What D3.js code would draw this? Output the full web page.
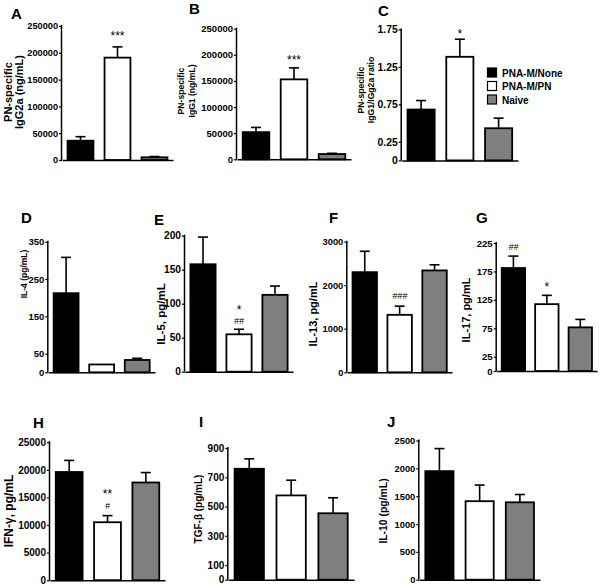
<!DOCTYPE html>
<html><head><meta charset="utf-8">
<script src="https://cdn.jsdelivr.net/npm/d3@7/dist/d3.min.js"></script>
<style>body{margin:0;background:#fff}svg{display:block}</style>
</head><body>
<svg id="c" width="600" height="585"></svg>
<script>
// ---------- DATA ----------
const groups = ["PNA-M/None", "PNA-M/PN", "Naive"];
const panelIds = ["A","B","C","D","E","F","G","H","I","J"];

const meanA = [36000, 191000, 5000];   const semA = [7500, 20000, 1500];
const meanB = [52000, 153000, 10000];  const semB = [9000, 22000, 1500];
const meanC = [0.68, 1.385, 0.43];     const semC = [0.12, 0.235, 0.135];
const meanD = [212, 21, 33];           const semD = [96, 0, 4.5];
const meanE = [158, 55, 113];          const semE = [40, 7.4, 13];
const meanF = [2300, 1320, 2340];      const semF = [480, 200, 130];
const meanG = [181, 117.5, 76.7];      const semG = [21, 15.5, 14];
const meanH = [19600, 10500, 17700];   const semH = [2100, 1200, 1800];
const meanI = [758, 576, 454];         const semI = [68, 104, 106];
const meanJ = [1950, 1410, 1390];      const semJ = [405, 290, 140];

const ticksA = [0, 50000, 100000, 150000, 200000, 250000];
const ticksB = [0, 50000, 100000, 150000, 200000, 250000];
const ticksC = [0, 0.25, 0.75, 1.25, 1.75];
const ticksD = [0, 50, 150, 250, 350];
const ticksE = [0, 50, 100, 150, 200];
const ticksF = [0, 1000, 2000, 3000];
const ticksG = [0, 25, 75, 125, 175, 225];
const ticksH = [0, 5000, 10000, 15000, 20000, 25000];
const ticksI = [0, 100, 300, 500, 700, 900];
const ticksJ = [0, 500, 1000, 1500, 2000, 2500];

const titlesA = ["PN-specific", "IgG2a (ng/mL)"];
const titlesB = ["PN-specific", "IgG1 (ng/mL)"];
const titlesC = ["PN-specific", "IgG1/IGg2a ratio"];
const titlesD = ["IL-4 (pg/mL)"];
const titlesE = ["IL-5, pg/mL"];
const titlesF = ["IL-13, pg/mL"];
const titlesG = ["IL-17, pg/mL"];
const titlesH = ["IFN-\u03b3, pg/mL"];
const titlesI = ["TGF-\u03b2 (pg/mL)"];
const titlesJ = ["IL-10 (pg/mL)"];

// significance marks: [panel, group index, text]
const marks = [["A",1,"***"],["B",1,"***"],["C",1,"*"],["E",1,"##"],["E",1,"*"],
               ["F",1,"###"],["G",0,"##"],["G",1,"*"],["H",1,"#"],["H",1,"**"]];

const data = {
  A:{mean:meanA, sem:semA, ticks:ticksA, titles:titlesA},
  B:{mean:meanB, sem:semB, ticks:ticksB, titles:titlesB},
  C:{mean:meanC, sem:semC, ticks:ticksC, titles:titlesC},
  D:{mean:meanD, sem:semD, ticks:ticksD, titles:titlesD},
  E:{mean:meanE, sem:semE, ticks:ticksE, titles:titlesE},
  F:{mean:meanF, sem:semF, ticks:ticksF, titles:titlesF},
  G:{mean:meanG, sem:semG, ticks:ticksG, titles:titlesG},
  H:{mean:meanH, sem:semH, ticks:ticksH, titles:titlesH},
  I:{mean:meanI, sem:semI, ticks:ticksI, titles:titlesI},
  J:{mean:meanJ, sem:semJ, ticks:ticksJ, titles:titlesJ}
};

// ---------- LAYOUT / STYLE ----------
const fills = ["#000000", "#ffffff", "#7f7f7f"];
const FONT = "'Liberation Sans', Arial, Helvetica, sans-serif";
const layout = {
  A:{x0:62,  x1:173, yTop:26,    yBot:160,   letter:[11,19],  tb:[12,23],      tcy:92,  ts:11,  tk:9.2},
  B:{x0:237, x1:351, yTop:28.7,  yBot:159.3, letter:[189,14], tb:[184,194.5],  tcy:91,  ts:8.6, tk:9.5},
  C:{x0:401.7,x1:518,yTop:29.5,  yBot:160.4, letter:[378,16], tb:[363.5,374],  tcy:90,  ts:8.6, tk:10.4},
  D:{x0:48.3,x1:155, yTop:241.7, yBot:372.3, letter:[21,223], tb:[27],         tcy:274, ts:8.5, tk:9.5},
  E:{x0:185, x1:293, yTop:235.7, yBot:371.7, letter:[154,225],tb:[165],        tcy:314, ts:11.5,tk:10.2},
  F:{x0:347.3,x1:452,yTop:241.7, yBot:372.3, letter:[329,223],tb:[317],        tcy:314, ts:11,  tk:9.3},
  G:{x0:496.7,x1:597,yTop:243,   yBot:371,   letter:[476,223],tb:[470],        tcy:310, ts:11,  tk:9.6},
  H:{x0:50,  x1:165, yTop:442.2, yBot:580.2, letter:[33,428], tb:[12.5],       tcy:511, ts:12,  tk:10},
  I:{x0:228.3,x1:354,yTop:448,   yBot:579.7, letter:[199,427],tb:[202],        tcy:509, ts:10,  tk:10},
  J:{x0:419.3,x1:540,yTop:440.5, yBot:579.7, letter:[387,427],tb:[387],        tcy:511, ts:10.4,tk:9.3}
};
// vertical gap (px) from error-bar top to mark centre, in order of `marks`
const markGap = [13, 10, 8, 9, 22, 11, 10, 11, 10, 24];

const svg = d3.select("#c");
svg.append("rect").attr("width",600).attr("height",585).attr("fill","#fff");

const scales = {};
panelIds.forEach(id => {
  const d = data[id], L = layout[id];
  const g = svg.append("g").attr("class","panel-"+id);
  const yMax = d3.max(d.ticks);
  const y = d3.scaleLinear().domain([0, yMax]).range([L.yBot, L.yTop]);
  const x = d3.scaleBand().domain(groups).range([L.x0, L.x1]).paddingInner(0.3).paddingOuter(0.15);
  scales[id] = {x, y};

  // bars
  g.selectAll("rect.bar").data(groups).join("rect").attr("class","bar")
    .attr("x", gr => x(gr)).attr("width", x.bandwidth())
    .attr("y", (gr,i) => y(d.mean[i])).attr("height", (gr,i) => L.yBot - y(d.mean[i]))
    .attr("fill", (gr,i) => fills[i]).attr("stroke","#000").attr("stroke-width",1.8);

  // error bars (upper only)
  groups.forEach((gr,i) => {
    if (d.sem[i] <= 0) return;
    const cx = x(gr) + x.bandwidth()/2;
    const yt = y(d.mean[i] + d.sem[i]);
    g.append("line").attr("x1",cx).attr("x2",cx).attr("y1",y(d.mean[i])).attr("y2",yt)
      .attr("stroke","#000").attr("stroke-width",1.6);
    g.append("line").attr("x1",cx-5).attr("x2",cx+5).attr("y1",yt).attr("y2",yt)
      .attr("stroke","#000").attr("stroke-width",1.6);
  });

  // y axis
  const ax = g.append("g").attr("transform",`translate(${L.x0},0)`)
    .call(d3.axisLeft(y).tickValues(d.ticks).tickSize(3).tickPadding(1).tickFormat(v => String(v)));
  ax.select(".domain").attr("stroke","#000").attr("stroke-width",1.5).attr("d",`M-0.5,${L.yBot}V${L.yTop-1}`);
  ax.selectAll(".tick line").attr("stroke","#000").attr("stroke-width",1.2);
  ax.selectAll(".tick text").attr("fill","#000").style("font-family",FONT)
    .style("font-weight","bold").style("font-size",L.tk+"px");

  // x axis line
  const xa = g.append("g").attr("transform",`translate(0,${L.yBot})`)
    .call(d3.axisBottom(d3.scaleLinear().domain([0,1]).range([L.x0, L.x1])).tickValues([]).tickSizeOuter(0));
  xa.select(".domain").attr("stroke","#000").attr("stroke-width",1.5);

  // panel letter
  g.append("text").attr("x",L.letter[0]).attr("y",L.letter[1]).text(id)
    .style("font-family",FONT).style("font-weight","bold").style("font-size","15px");

  // y title(s)
  d.titles.forEach((t,k) => {
    g.append("text").attr("transform",`translate(${L.tb[k]},${L.tcy}) rotate(-90)`)
      .attr("text-anchor","middle").text(t)
      .style("font-family",FONT).style("font-weight","bold").style("font-size",L.ts+"px");
  });
});

// significance marks
marks.forEach((m,k) => {
  const [id, gi, txt] = m;
  const {x, y} = scales[id], d = data[id];
  const cx = x(groups[gi]) + x.bandwidth()/2;
  const cy = y(d.mean[gi] + d.sem[gi]) - markGap[k];
  const isStar = txt[0] === "*";
  svg.append("text").attr("x",cx).attr("y", isStar ? cy + 6.5 : cy + 3.5)
    .attr("text-anchor","middle").text(txt)
    .style("font-family",FONT).style("font-size", isStar ? "12px" : "9px")
    .style("font-style", isStar ? "normal" : "italic");
});

// legend
const leg = svg.append("g").attr("class","legend");
const legY = [73, 86.5, 100];
groups.forEach((gr,i) => {
  leg.append("rect").attr("x",487.5).attr("y",legY[i]-5).attr("width",9).attr("height",9)
    .attr("fill",fills[i]).attr("stroke","#000").attr("stroke-width",1.2);
  leg.append("text").attr("x",502).attr("y",legY[i]+3.8).text(gr)
    .style("font-family",FONT).style("font-weight","bold").style("font-size","10px");
});
</script>
</body></html>
